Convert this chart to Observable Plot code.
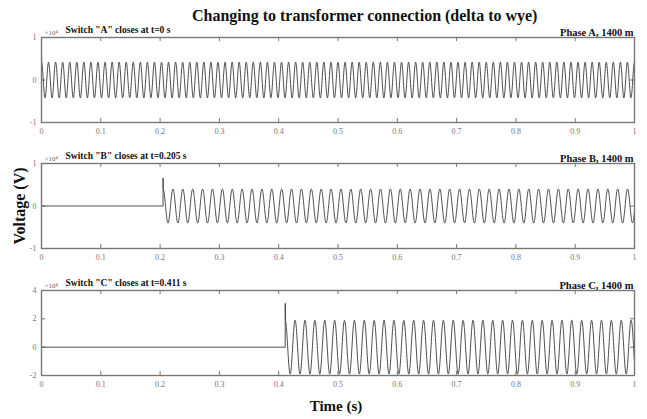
<!DOCTYPE html>
<html><head><meta charset="utf-8">
<script src="https://cdn.jsdelivr.net/npm/d3@7"></script>
<script src="https://cdn.jsdelivr.net/npm/@observablehq/plot@0.6"></script>
<style>
body{margin:0;background:#fff;}
#wrap{position:relative;width:647px;height:419px;font-family:"Liberation Serif","Times New Roman",serif;overflow:hidden;background:#fff}
.abs{position:absolute;white-space:nowrap;line-height:1;color:#111}
</style></head><body><div id="wrap">
<div class="abs" style="left:192px;top:8px;font-size:16px;font-weight:bold;">Changing to transformer connection (delta to wye)</div>
<div class="abs" style="left:-40px;top:198px;width:120px;text-align:center;font-size:16px;font-weight:bold;transform:rotate(-90deg);">Voltage (V)</div>
<div class="abs" style="left:286px;top:399px;width:100px;text-align:center;font-size:15px;font-weight:bold;">Time (s)</div>
</div>
<script>
// ---- data ----
const switchLabels = ['Switch "A" closes at t=0 s', 'Switch "B" closes at t=0.205 s', 'Switch "C" closes at t=0.411 s'];
const phaseLabels = ["Phase A, 1400 m", "Phase B, 1400 m", "Phase C, 1400 m"];
const switchTimes = [0, 0.205, 0.411];      // s
const amplitudes = [0.42, 0.40, 1.9];        // x10^4 V
const spikes = [0.7, 0.66, 3.1];             // x10^4 V, first transient peak
const freqs = [84, 60, 60];                  // apparent cycles per second
const yDomains = [[-1, 1], [-1, 1], [-2, 4]];
const yTicks = [[-1, 0, 1], [-1, 0, 1], [-2, 0, 2, 4]];
const xTicks = [0, 0.1, 0.2, 0.3, 0.4, 0.5, 0.6, 0.7, 0.8, 0.9, 1];
const multiplier = "×10⁴";

// ---- layout ----
const panelTops = [17, 143, 270];
const W = 647, H = 123, mL = 41, mR = 13, mT = 20, mB = 18;
const innerH = H - mT - mB, innerW = W - mL - mR;

function wave(i) {
  const ts = switchTimes[i], A = amplitudes[i], f = freqs[i], pts = [];
  if (ts > 0) { pts.push({t: 0, v: 0}); pts.push({t: ts, v: 0}); }
  pts.push({t: ts, v: spikes[i]});
  const dt = 0.0004;
  for (let t = ts + dt; t <= 1.00001; t += dt) pts.push({t, v: A * Math.cos(2 * Math.PI * f * (t - ts))});
  return pts;
}

const wrap = document.getElementById("wrap");
for (let i = 0; i < 3; i++) {
  const frameColor = "#777";
  const svg = Plot.plot({
    width: W, height: H, marginLeft: mL, marginRight: mR, marginTop: mT, marginBottom: mB,
    x: {domain: [0, 1]},
    y: {domain: yDomains[i]},
    style: {fontFamily: "Liberation Serif, serif", background: "transparent", overflow: "visible"},
    marks: [
      Plot.ruleX(xTicks, {x: d => d, insetBottom: innerH - 4, stroke: frameColor}),
      Plot.ruleX(xTicks, {x: d => d, insetTop: innerH - 4, stroke: frameColor}),
      Plot.ruleY(yTicks[i], {y: d => d, insetRight: innerW - 4, stroke: frameColor}),
      Plot.ruleY(yTicks[i], {y: d => d, insetLeft: innerW - 4, stroke: frameColor}),
      Plot.axisX({ticks: xTicks, tickSize: 0, tickPadding: 6, fontSize: 8, color: "#777", label: null, tickFormat: d => String(d)}),
      Plot.axisY({ticks: yTicks[i], tickSize: 0, tickPadding: 5, fontSize: 8, color: "#777", label: null, tickFormat: d => String(d)}),
      Plot.line(wave(i), {x: "t", y: "v", stroke: "#3a3a3a", strokeWidth: 0.9}),
      Plot.frame({stroke: frameColor, strokeWidth: 1.4}),
      Plot.text([multiplier], {text: d => d, frameAnchor: "top-left", dx: 3, dy: -3, lineAnchor: "bottom", textAnchor: "start", fontSize: 7, fill: "#666"}),
      Plot.text([switchLabels[i]], {text: d => d, frameAnchor: "top-left", dx: 24, dy: -5, lineAnchor: "bottom", textAnchor: "start", fontSize: 9.5, fontWeight: "bold", fill: "#111"}),
      Plot.text([phaseLabels[i]], {text: d => d, frameAnchor: "top-right", dx: -1, dy: -2, lineAnchor: "bottom", textAnchor: "end", fontSize: 10.5, fontWeight: "bold", fill: "#111"})
    ]
  });
  svg.style.position = "absolute";
  svg.style.left = "0px";
  svg.style.top = panelTops[i] + "px";
  wrap.appendChild(svg);
}
</script>
</body></html>
